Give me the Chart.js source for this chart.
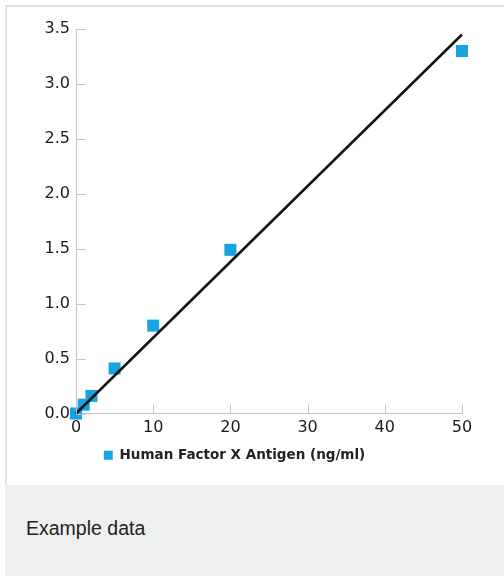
<!DOCTYPE html>
<html>
<head>
<meta charset="utf-8">
<script src="https://cdn.jsdelivr.net/npm/chart.js@4.4.0/dist/chart.umd.min.js"></script>
<style>
  body { margin: 0; background: #fff; width: 504px; height: 576px; overflow: hidden; }
  #card { position: absolute; left: 5px; top: 5px; width: 520px; height: 478px; border: 2px solid #e2e3e2; border-right: none; background: #fff; }
  #wrap { position: absolute; left: 0; top: 0; width: 497px; height: 476px; }
  #foot { position: absolute; left: 5px; top: 485px; width: 520px; height: 91px; background: #eef0ef; }
  #foot span { position: absolute; left: 21px; top: 33px; font: 19.5px/20px "Liberation Sans", Arial, sans-serif; color: #222; }
</style>
</head>
<body>
<div id="card"><div id="wrap"><canvas id="chart"></canvas></div></div>
<div id="foot"><span>Example data</span></div>
<script>
// measured standard points
const concentrations = [0, 1, 2, 5, 10, 20, 50];
const absorbance = [0, 0.08, 0.16, 0.41, 0.80, 1.49, 3.30];

// fitted line end points
const fitX = [0, 50];
const fitY = [0, 3.45];

const legendLabel = 'Human Factor X Antigen (ng/ml)';

const pointColor = '#17a4e2';
const axisColor = '#c4c4c4';
const tickFont = { family: 'DejaVu Sans', size: 16 };

// tick marks drawn on the inside of the axes
const innerTicks = {
  id: 'innerTicks',
  afterDraw(chart) {
    const { ctx, chartArea, scales } = chart;
    ctx.save();
    ctx.strokeStyle = axisColor;
    ctx.lineWidth = 1;
    ctx.beginPath();
    scales.y.ticks.forEach((t, i) => {
      const y = Math.round(scales.y.getPixelForTick(i)) + 0.5;
      ctx.moveTo(chartArea.left, y);
      ctx.lineTo(chartArea.left + 10, y);
    });
    scales.x.ticks.forEach((t, i) => {
      const x = Math.round(scales.x.getPixelForTick(i)) + 0.5;
      ctx.moveTo(x, chartArea.bottom);
      ctx.lineTo(x, chartArea.bottom - 9);
    });
    ctx.stroke();
    ctx.restore();
  }
};

new Chart(document.getElementById('chart'), {
  type: 'scatter',
  data: {
    datasets: [
      {
        label: legendLabel,
        data: concentrations.map((c, i) => ({ x: c, y: absorbance[i] })),
        pointStyle: 'rect',
        pointRadius: 8.5,
        pointHoverRadius: 8.5,
        backgroundColor: pointColor,
        borderColor: pointColor,
        borderWidth: 0,
        clip: false,
        order: 2
      },
      {
        label: 'fit',
        type: 'line',
        data: fitX.map((x, i) => ({ x: x, y: fitY[i] })),
        borderColor: '#111',
        borderWidth: 2.5,
        pointRadius: 0,
        showLine: true,
        fill: false,
        clip: false,
        order: 1
      }
    ]
  },
  options: {
    responsive: true,
    maintainAspectRatio: false,
    animation: false,
    layout: { padding: { left: 0, right: 42, top: 22, bottom: 11 } },
    scales: {
      x: {
        type: 'linear',
        min: 0,
        max: 50,
        afterFit(scale) { scale.height = 25; },
        grid: { display: false, drawTicks: false },
        border: { display: true, color: axisColor, width: 1 },
        ticks: { stepSize: 10, padding: 5, color: '#1a1a1a', font: tickFont, maxRotation: 0 }
      },
      y: {
        type: 'linear',
        min: 0,
        max: 3.5,
        afterFit(scale) { scale.width = 69; },
        grid: { display: false, drawTicks: false },
        border: { display: true, color: axisColor, width: 1 },
        ticks: { stepSize: 0.5, padding: 6, color: '#1a1a1a', font: tickFont,
          callback: v => v.toFixed(1) }
      }
    },
    plugins: {
      legend: {
        position: 'bottom',
        labels: {
          boxWidth: 9,
          boxHeight: 9,
          color: '#222',
          font: { family: 'DejaVu Sans', size: 13.5, weight: 'bold' },
          filter: item => item.datasetIndex === 0
        }
      },
      tooltip: { enabled: false }
    }
  },
  plugins: [innerTicks]
});
</script>
</body>
</html>
